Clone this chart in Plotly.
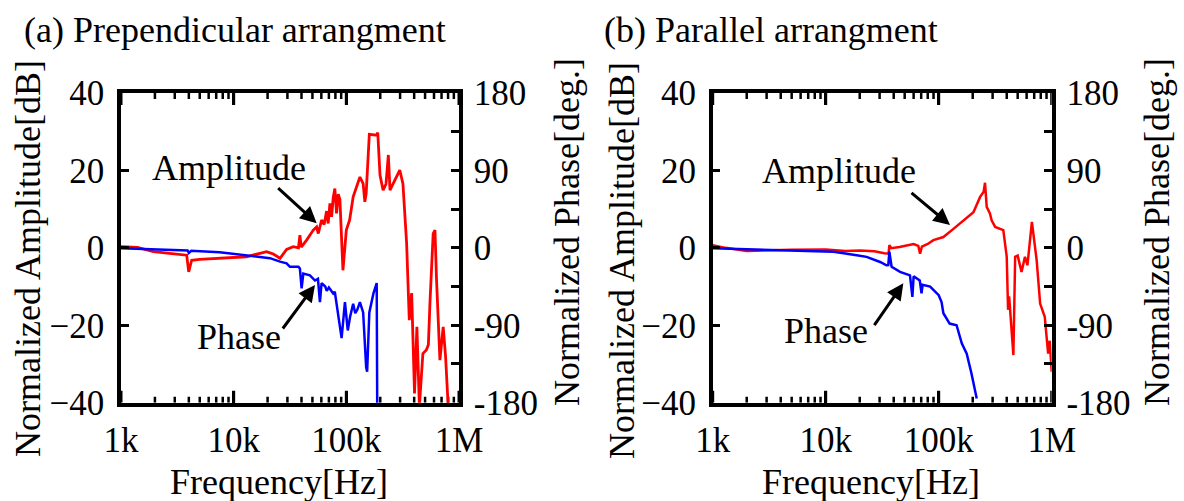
import plotly.graph_objects as go

# ---------------- data ----------------
# (a) perpendicular arrangement
amp_a_freq = [1000, 1400, 1940, 2540, 3830, 3990, 4240, 5000, 7560, 13000, 17100, 19600,
              21000, 22500, 25800, 29500, 33800, 37600, 38700, 39800, 44400, 50900, 54500,
              56400, 60300, 63500, 66800, 69000, 71500, 74000, 76500, 79100, 81900, 84800,
              87700, 89000, 93300, 100000, 107000, 115000, 132000, 141000, 146000, 150000,
              160000, 186000, 190000, 199000, 212000, 225000, 236000, 244000, 260000,
              280000, 298000, 318000, 330000, 343000, 362000, 380000, 403000, 423000,
              445000, 478000, 513000, 535000, 552000, 590000, 612000, 632000, 677000,
              724000, 760000, 802000]
amp_a_db = [0.3, 0.1, -1.0, -1.4, -1.9, -6.2, -3.2, -3.0, -2.7, -2.3, -1.4, -1.0,
            -1.3, -1.6, -2.7, -0.4, 0.3, 0.0, 3.3, 0.2, 2.0, 4.6, 5.4,
            3.7, 7.2, 6.0, 9.5, 6.3, 11.5, 8.0, 13.0, 15.3, 8.9, 13.9,
            12.5, 7.2, -5.8, 4.6, 7.2, 13.2, 18.3, 16.6, 11.9, 14.0,
            29.3, 29.1, 29.8, 18.8, 14.9, 16.5, 24.0, 14.9, 16.5,
            18.5, 20.1, 16.6, 7.2, 1.1, -18.7, -11.7, -37.6, -20.4,
            -41.0, -27.3, -26.4, -25.0, -14.4, 3.7, 4.6, -8.3, -29.0,
            -20.4, -28.0, -41.0]

ph_a_freq = [1000, 2000, 3900, 4000, 4200, 7500, 13000, 21000, 25800, 29500, 31600, 37600,
             38700, 40100, 41500, 47500, 52700, 56000, 58300, 60300, 65000, 67000, 70000,
             76500, 79000, 84800, 90800, 97200, 103000, 108000, 115000, 120000, 125000,
             132000, 141000, 150000, 153000, 160000, 174000, 186000, 188000]
ph_a_deg = [-0.5, -2, -3, -6, -3.5, -5, -8.5, -12, -16, -18, -22, -22,
            -24, -47, -30, -32, -38, -36, -63, -41, -45, -50, -46,
            -53, -51, -76, -105, -63, -96, -80, -65, -76, -72,
            -63, -75, -139, -144, -75, -53, -41, -185]

# (b) parallel arrangement
amp_b_freq = [1000, 1300, 2000, 3000, 5000, 10000, 15000, 20000, 27000, 33000, 36000,
              36600, 38000, 45000, 52000, 60000, 66000, 68400, 71000, 80000, 89800,
              110000, 135000, 165000, 203000, 232000, 250000, 257000, 266000, 284000,
              294000, 316000, 373000, 400000, 411000, 420000, 458000, 475000, 500000,
              541000, 580000, 610000, 668000, 736000, 790000, 868000, 930000, 960000,
              1000000]
amp_b_db = [0.7, 0.0, -0.8, -0.6, -0.5, -0.4, -0.8, -0.7, -0.9, -1.4, -1.5,
            0.7, -0.1, 0.2, 0.6, 1.0, 0.5, -1.5, 0.3, 1.0, 2.0,
            2.8, 4.9, 7.1, 9.2, 13.1, 14.5, 16.8, 10.6, 8.9,
            7.1, 5.4, 4.6, -2.3, -16.0, -12.5, -27.7, -2.3, -2.0,
            -6.2, -2.3, -4.5, 6.7, -3.2, -14.4, -17.8, -27.3, -24.0,
            -32.0]

ph_b_freq = [1000, 2000, 5000, 11700, 18800, 23000, 30300, 34500, 35800, 36600, 38300,
             45500, 55700, 58500, 60000, 68000, 70500, 72000, 84000, 100000, 106000,
             110000, 125000, 144000, 160000, 177000, 195000, 210000, 217000]
ph_b_deg = [-0.5, -1.5, -3, -4.6, -8.5, -10.5, -16.4, -20.3, -20, -4.5, -22,
            -28, -32, -57, -33, -38, -53, -43, -45, -55, -63,
            -76, -88, -90, -111, -123, -146, -166, -175]

freq_ticks = [1e3, 1e4, 1e5, 1e6]
freq_labels = ["1k", "10k", "100k", "1M"]
freq_minor = [m * 10 ** e for e in range(3, 6) for m in range(2, 10)]
amp_ticks = [-40, -20, 0, 20, 40]
phase_ticks = [-180, -135, -90, -45, 0, 45, 90, 135, 180]
phase_labels = ["-180", "", "-90", "", "0", "", "90", "", "180"]

RED = "#ff0000"
BLUE = "#0000ff"
SERIF = "Liberation Serif, Times New Roman, serif"
W, H = 1184, 501
X_DOM_A = [121 / W, 459 / W]
X_DOM_B = [712.7 / W, 1051.7 / W]
Y_DOM = [1 - 402.7 / H, 1 - 93 / H]
PLOT_H = (Y_DOM[1] - Y_DOM[0]) * H

fig = go.Figure()

# frequency tick marks as vertical strokes on the amplitude axis (bottom and top edges)
TICK_DB = 80.0 / PLOT_H  # dB per pixel on the amplitude scale


def tick_segments(vals, length_px):
    d = length_px * TICK_DB
    xs, ys = [], []
    for f in vals:
        xs += [f, f, None, f, f, None]
        ys += [-40, -40 + d, None, 40, 40 - d, None]
    return xs, ys


for xa, ya in (("x", "y"), ("x2", "y3")):
    for vals, length, width in ((freq_ticks, 12, 3), (freq_minor, 6, 2.5)):
        xs, ys = tick_segments(vals, length)
        fig.add_trace(go.Scatter(x=xs, y=ys, xaxis=xa, yaxis=ya, mode="lines",
                                 line=dict(color="black", width=width),
                                 hoverinfo="skip"))

fig.add_trace(go.Scatter(x=amp_a_freq, y=amp_a_db, xaxis="x", yaxis="y", mode="lines",
                         line=dict(color=RED, width=2.8)))
fig.add_trace(go.Scatter(x=ph_a_freq, y=ph_a_deg, xaxis="x", yaxis="y2", mode="lines",
                         line=dict(color=BLUE, width=2.5)))
fig.add_trace(go.Scatter(x=amp_b_freq, y=amp_b_db, xaxis="x2", yaxis="y3", mode="lines",
                         line=dict(color=RED, width=2.5)))
fig.add_trace(go.Scatter(x=ph_b_freq, y=ph_b_deg, xaxis="x2", yaxis="y4", mode="lines",
                         line=dict(color=BLUE, width=2.5)))

tickfont = dict(family=SERIF, size=35, color="black")


def xaxis_style(domain, anchor):
    return dict(type="log", range=[3, 6], domain=domain, anchor=anchor,
                tickmode="array", tickvals=freq_ticks, ticktext=freq_labels,
                ticks="inside", ticklen=12, tickwidth=3, tickcolor="black",
                showline=True, linewidth=3.5, linecolor="black", mirror="ticks",
                showgrid=False, zeroline=False, tickfont=tickfont, automargin=False,
                ticklabelstandoff=4)


def amp_axis_style(anchor):
    return dict(range=[-40, 40], domain=Y_DOM, anchor=anchor,
                tickmode="array", tickvals=amp_ticks,
                ticks="inside", ticklen=8, tickwidth=2.5, tickcolor="black",
                showline=True, linewidth=3.5, linecolor="black", mirror=True,
                showgrid=False, zeroline=False, tickfont=tickfont, automargin=False,
                ticklabelstandoff=6)


def phase_axis_style(anchor, overlay):
    return dict(range=[-180, 180], overlaying=overlay, side="right", anchor=anchor,
                tickmode="array", tickvals=phase_ticks, ticktext=phase_labels,
                ticks="inside", ticklen=8, tickwidth=2.5, tickcolor="black",
                showline=True, linewidth=3.5, linecolor="black",
                showgrid=False, zeroline=False, tickfont=tickfont, automargin=False,
                ticklabelstandoff=4)


fig.update_layout(
    width=W, height=H,
    margin=dict(l=0, r=0, t=0, b=0),
    paper_bgcolor="white", plot_bgcolor="white",
    showlegend=False,
    xaxis=xaxis_style(X_DOM_A, "y"),
    xaxis2=xaxis_style(X_DOM_B, "y3"),
    yaxis=amp_axis_style("x"),
    yaxis2=phase_axis_style("x", "y"),
    yaxis3=amp_axis_style("x2"),
    yaxis4=phase_axis_style("x2", "y3"),
)


def px(x, y):
    return x / W, 1 - y / H


annotations = []


def text(s, x, y, xanchor="center", angle=0, size=36):
    xp, yp = px(x, y)
    annotations.append(dict(text=s, x=xp, y=yp, xref="paper", yref="paper",
                            xanchor=xanchor, yanchor="middle", textangle=angle,
                            borderpad=0, showarrow=False,
                            font=dict(family=SERIF, size=size, color="black")))


def arrow(x0, y0, x1, y1):
    xp, yp = px(x1, y1)
    annotations.append(dict(text="", x=xp, y=yp, xref="paper", yref="paper",
                            ax=x0 - x1, ay=y0 - y1, showarrow=True, arrowhead=2,
                            arrowsize=1.1, arrowwidth=3, arrowcolor="black"))


# panel titles
text("(a) Prependicular arrangment", 23, 30, xanchor="left")
text("(b) Parallel arrangment", 603, 30, xanchor="left")

# axis titles
text("Normalized Amplitude[dB]", 28, 259, angle=-90)
text("Normalized Phase[deg.]", 567, 232, angle=-90)
text("Normalized Amplitude[dB]", 622, 261, angle=-90)
text("Normalized Phase[deg.]", 1157, 232, angle=-90)
text("Frequency[Hz]", 279, 482)
text("Frequency[Hz]", 871, 482)

# curve labels with arrows
text("Amplitude", 229, 168)
arrow(276.7, 186.7, 316.7, 223.3)
text("Phase", 239, 337)
arrow(281.7, 330, 315, 285)

text("Amplitude", 839, 171)
arrow(910, 191.7, 950, 225)
text("Phase", 826, 331)
arrow(873.3, 326.7, 903.3, 283.3)

fig.update_layout(annotations=annotations)

fig.write_html("out.html")
